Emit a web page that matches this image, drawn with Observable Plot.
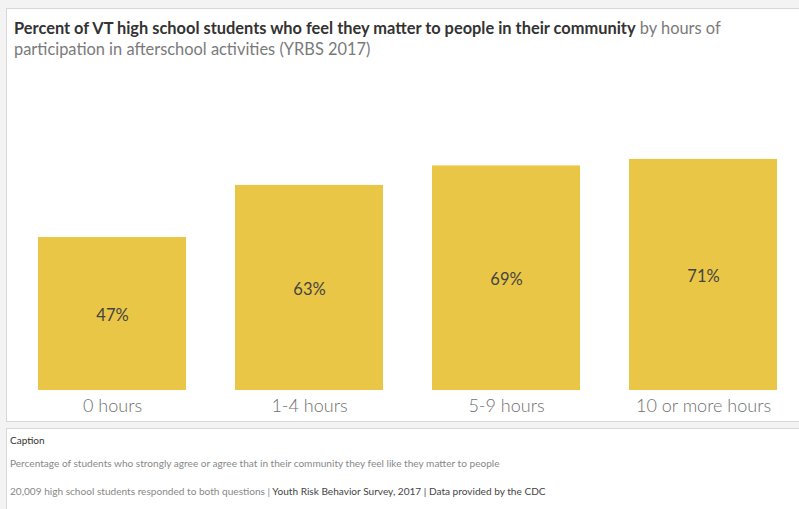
<!DOCTYPE html>
<html>
<head>
<meta charset="utf-8">
<script src="https://cdn.jsdelivr.net/npm/d3@7"></script>
<script src="https://cdn.jsdelivr.net/npm/@observablehq/plot@0.6"></script>
<style>
  html, body { margin: 0; padding: 0; background: #f3f3f3; width: 799px; height: 509px; overflow: hidden; font-family: Lato, "Open Sans", sans-serif; }
  #panel { position: absolute; left: 6px; top: 8px; width: 800px; height: 414px; background: #fff; border: 1px solid #d8d8d8; box-sizing: border-box; }
  #title { position: absolute; left: 14px; top: 17px; width: 740px; font-size: 16.4px; line-height: 21px; color: #7a7a7a; }
  #title b { color: #333; font-weight: 700; }
  #chart { position: absolute; left: 0; top: 60px; }
  #cap { position: absolute; left: 6px; top: 428px; width: 800px; height: 90px; background: #fff; border: 1px solid #d8d8d8; box-sizing: border-box; }
  #caphead { position: absolute; left: 10px; top: 434px; font-size: 10px; color: #333; }
  .capline { position: absolute; left: 10px; font-size: 10.1px; color: #888; white-space: nowrap; }
  .capline span { color: #444; }
</style>
</head>
<body>
<div id="panel"></div>
<div id="title"><b>Percent of VT high school students who feel they matter to people in their community</b> by hours of participation in afterschool activities (YRBS 2017)</div>
<div id="chart"></div>
<div id="cap"></div>
<div id="caphead">Caption</div>
<div class="capline" style="top:457px">Percentage of students who strongly agree or agree that in their community they feel like they matter to people</div>
<div class="capline" style="top:485px">20,009 high school students responded to both questions | <span>Youth Risk Behavior Survey, 2017 | Data provided by the CDC</span></div>
<script>
const categories = ["0 hours", "1-4 hours", "5-9 hours", "10 or more hours"];
const percents = [47, 63, 69, 71];
const labels = ["47%", "63%", "69%", "71%"];

const data = categories.map((c, i) => ({cat: c, pct: percents[i], label: labels[i]}));

const chart = Plot.plot({
  width: 799,
  height: 362,
  marginTop: 4.5,
  marginBottom: 32,
  marginLeft: 12,
  marginRight: 0,
  style: {background: "transparent", fontFamily: "Lato, sans-serif", overflow: "visible"},
  x: {domain: categories, range: [12.3, 801.7], paddingInner: 0.25, paddingOuter: 0.125, label: null, tickSize: 0, tickPadding: 9},
  y: {domain: [0, 100], axis: null},
  marks: [
    Plot.barY(data, {x: "cat", y: "pct", fill: "#EAC646"}),
    Plot.ruleY([0], {stroke: "#e4e4e4", x1: 12, x2: 799}),
    Plot.text(data, {x: "cat", y: d => d.pct / 2, text: "label", fontSize: 16.5, fill: "#444", fontWeight: 400, dy: 2}),
    Plot.axisX({tickSize: 0, tickPadding: 9, fontSize: 18, fill: "#707070", fontWeight: 300, label: null})
  ]
});
document.getElementById("chart").appendChild(chart);
</script>
</body>
</html>
